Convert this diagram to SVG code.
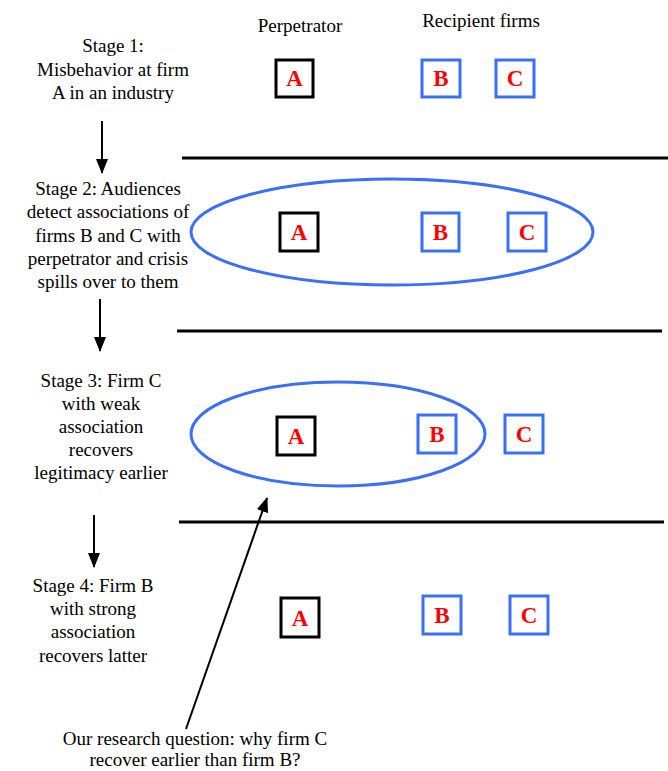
<svg xmlns="http://www.w3.org/2000/svg" width="668" height="771" viewBox="0 0 668 771">
<style>
.lbl{font-family:"Liberation Serif","Times New Roman",serif;font-size:19px;fill:#000;text-anchor:middle}
.let{font-family:"Liberation Serif","Times New Roman",serif;font-size:23px;font-weight:bold;fill:#ff0000;text-anchor:middle}
.pb{fill:#fff;stroke:#000;stroke-width:3}
.rb{fill:#fff;stroke:#3a6ff7;stroke-width:3}
.ell{fill:none;stroke:#3a6ff7;stroke-width:3}
.sep{stroke:#000;stroke-width:3}
.arr{stroke:#000;stroke-width:2;fill:none}
</style>
<defs>
<marker id="ah" markerUnits="userSpaceOnUse" markerWidth="15" markerHeight="12" refX="14" refY="6" orient="auto">
<path d="M0,0 L15,6 L0,12 z" fill="#000"/>
</marker>
</defs>
<rect width="668" height="771" fill="#fff"/>
<g id="headers">
<text class="lbl" x="300" y="32">Perpetrator</text>
<text class="lbl" x="481" y="27">Recipient firms</text>
</g>
<g id="separators">
<line class="sep" x1="182" y1="158" x2="668" y2="158"/>
<line class="sep" x1="177" y1="331" x2="662" y2="331"/>
<line class="sep" x1="179" y1="522" x2="664" y2="522"/>
</g>
<g id="stage1">
<g id="stage1-label">
<text class="lbl" x="113" y="52">Stage 1:</text>
<text class="lbl" x="113" y="76">Misbehavior at firm</text>
<text class="lbl" x="113" y="99">A in an industry</text>
</g>
<g id="s1-A"><rect class="pb" x="276" y="60" width="37" height="37"/><text class="let" x="294.5" y="86">A</text></g>
<g id="s1-B"><rect class="rb" x="422" y="60" width="38" height="37"/><text class="let" x="441" y="86">B</text></g>
<g id="s1-C"><rect class="rb" x="496" y="60" width="38" height="37"/><text class="let" x="515" y="86">C</text></g>
</g>
<g id="stage2">
<g id="stage2-label">
<text class="lbl" x="108" y="195">Stage 2: Audiences</text>
<text class="lbl" x="108" y="218">detect associations of</text>
<text class="lbl" x="108" y="242">firms B and C with</text>
<text class="lbl" x="108" y="265">perpetrator and crisis</text>
<text class="lbl" x="108" y="288">spills over to them</text>
</g>
<ellipse id="s2-ellipse" class="ell" cx="392" cy="232" rx="201" ry="53"/>
<g id="s2-A"><rect class="pb" x="280" y="213" width="38" height="38"/><text class="let" x="299" y="240">A</text></g>
<g id="s2-B"><rect class="rb" x="422" y="213" width="37" height="38"/><text class="let" x="440.5" y="240">B</text></g>
<g id="s2-C"><rect class="rb" x="508" y="213" width="38" height="38"/><text class="let" x="527" y="240">C</text></g>
</g>
<g id="stage3">
<g id="stage3-label">
<text class="lbl" x="101" y="387">Stage 3: Firm C</text>
<text class="lbl" x="101" y="410">with weak</text>
<text class="lbl" x="101" y="433">association</text>
<text class="lbl" x="101" y="456">recovers</text>
<text class="lbl" x="101" y="479">legitimacy earlier</text>
</g>
<ellipse id="s3-ellipse" class="ell" cx="338" cy="434" rx="147" ry="52"/>
<g id="s3-A"><rect class="pb" x="277" y="417" width="38" height="38"/><text class="let" x="296" y="444">A</text></g>
<g id="s3-B"><rect class="rb" x="418" y="415" width="38" height="38"/><text class="let" x="437" y="442">B</text></g>
<g id="s3-C"><rect class="rb" x="505" y="415" width="38" height="38"/><text class="let" x="524" y="442">C</text></g>
</g>
<g id="stage4">
<g id="stage4-label">
<text class="lbl" x="93" y="592">Stage 4: Firm B</text>
<text class="lbl" x="93" y="615">with strong</text>
<text class="lbl" x="93" y="638">association</text>
<text class="lbl" x="93" y="662">recovers latter</text>
</g>
<g id="s4-A"><rect class="pb" x="281" y="598" width="38" height="39"/><text class="let" x="300" y="626">A</text></g>
<g id="s4-B"><rect class="rb" x="423" y="596" width="38" height="38"/><text class="let" x="442" y="623">B</text></g>
<g id="s4-C"><rect class="rb" x="510" y="596" width="38" height="38"/><text class="let" x="529" y="623">C</text></g>
</g>
<g id="research-question">
<text class="lbl" x="195" y="745">Our research question: why firm C</text>
<text class="lbl" x="195" y="766">recover earlier than firm B?</text>
</g>
<g id="connectors">
<line class="arr" x1="102" y1="121" x2="102" y2="173" marker-end="url(#ah)"/>
<line class="arr" x1="100" y1="299" x2="100" y2="351" marker-end="url(#ah)"/>
<line class="arr" x1="94" y1="515" x2="94" y2="567" marker-end="url(#ah)"/>
<line class="arr" x1="186" y1="729" x2="267" y2="498" marker-end="url(#ah)"/>
</g>
</svg>
